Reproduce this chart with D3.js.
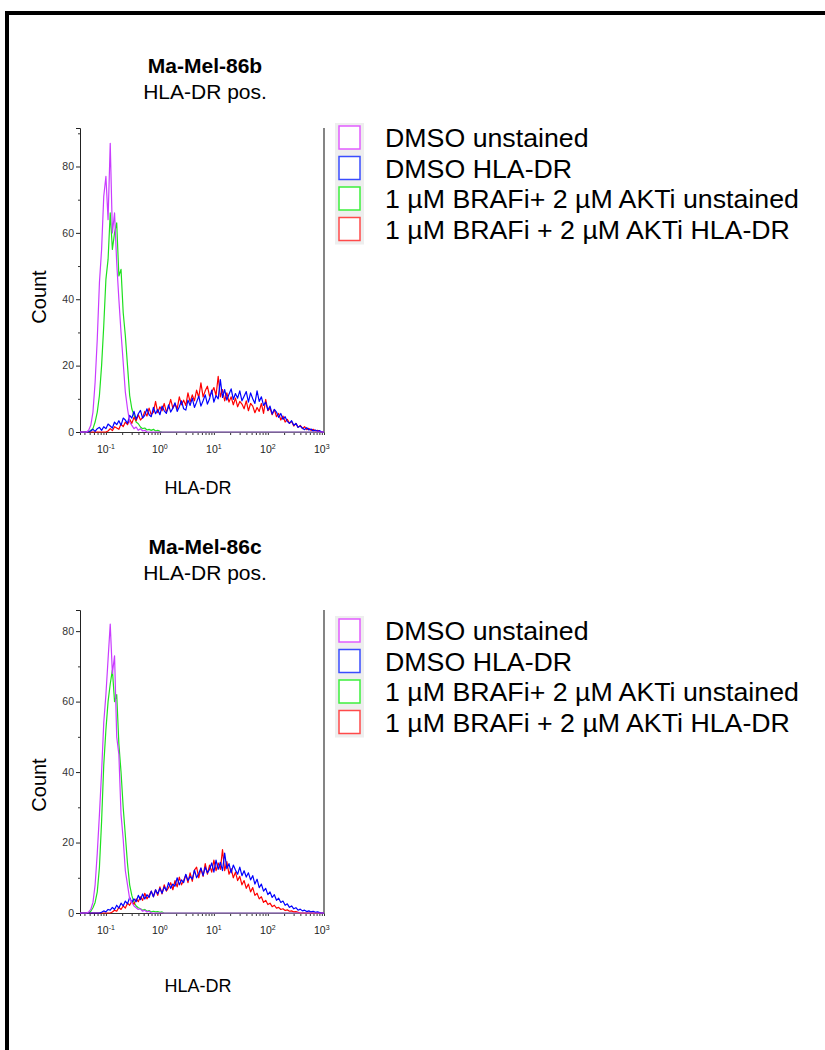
<!DOCTYPE html>
<html lang="en">
	<head>
		<meta charset="utf-8">
		<title>HLA-DR histograms</title>
		<script type="text/javascript" src="https://cdn.jsdelivr.net/npm/d3@7"></script>
		<style>
			body { margin: 0; background: #fff; }
			text { font-family: "Liberation Sans", Arial, sans-serif; }
		</style>
	</head>
	<body>
		<script type="text/javascript">

			var w = 825;
			var h = 1050;

			// histogram channels, log10 of HLA-DR intensity, 0.04 decade per bin
			var binStep = 0.04;

			// legend labels and colours
			var seriesNames = ["DMSO unstained", "DMSO HLA-DR", "1 \u00b5M BRAFi+ 2 \u00b5M AKTi unstained", "1 \u00b5M BRAFi + 2 \u00b5M AKTi HLA-DR"];
			var lineColors = ["#c93cff", "#0000ff", "#1fe01f", "#ff0000"];
			var boxColors = ["#e25cff", "#3a4cff", "#3cf03c", "#ff4a4a"];

			var xTickExp = [-1, 0, 1, 2, 3];
			var yTicks = [0, 20, 40, 60, 80];
			var yMinor = [10, 30, 50, 70, 90];

			// Ma-Mel-86b
			var b_dmsoUnst_from = -1.32;
			var b_dmsoUnst = [0.5, 2, 6, 15, 28, 45, 55, 71, 77, 64, 87, 60, 66, 51, 40, 30, 21, 12, 7, 3, 2, 1, 1.5, 0.5, 1, 0.3, 0.5, 0];

			var b_dmsoHla_from = -1.28;
			var b_dmsoHla = [0.3, 0.8, 0.2, 1, 1.4, 0.5, 1.6, 1, 2.4, 1.8,
				1.2, 3, 2.2, 3.4, 2, 4.2, 3.6, 2.6, 5, 4.2,
				6.2, 3.8, 5.5, 6.5, 4.2, 5, 7, 5.2, 4.6, 7.4,
				5.5, 6.8, 5.2, 7.8, 6.4, 5.6, 8.2, 6, 7.2, 8.8,
				6.2, 7.6, 9.4, 7, 6.6, 9.6, 8, 10.2, 7.4, 9,
				10.8, 7.8, 9.4, 11.2, 8.4, 10, 12.6, 9, 11, 10,
				15.8, 10.4, 12.8, 9.6, 11.4, 13, 9.8, 11.6, 10.2, 12.4,
				9.4, 10.8, 12.2, 9, 11.8, 10, 8.6, 12.4, 9.2, 10.6,
				8, 9, 6.6, 7.8, 5.4, 6.8, 6, 4.4, 5.6, 3.8,
				4.6, 3.2, 2.6, 3.4, 2, 2.6, 1.4, 1.8, 1.2, 0.7,
				1.3, 0.6, 0.9, 0.3, 0.6, 0.2, 0.4, 0];

			var b_comboUnst_from = -1.32;
			var b_comboUnst = [0, 0.5, 1, 3, 6, 11, 20, 32, 46, 52, 66, 55, 60, 63, 47, 49, 36, 29, 20, 11,
				7, 5, 3, 2.5, 1.5, 1, 1.2, 0.6, 0.8, 0.5, 0.8, 0.3, 0.5, 0.2, 0];

			var b_comboHla_from = -0.96;
			var b_comboHla = [0.3, 1, 0.4, 1.6, 1.2, 0.8, 2.4, 1.6, 3, 2.2,
				3.8, 2.6, 4.4, 3.4, 5.2, 3.6, 4.4, 6.2, 4.8, 7.2,
				5.2, 6, 9.2, 5.8, 7.6, 6.4, 8.6, 6, 7.4, 9.8,
				7.2, 8.4, 7, 10.6, 8.2, 9.6, 8, 11.8, 9, 11.2,
				9.4, 12.6, 10.4, 14.8, 10.6, 12.4, 13.8, 10.8, 12, 13.4,
				11, 16.8, 10.6, 12.8, 9.4, 11.8, 9, 10.6, 8.2, 10.2,
				7.6, 9.2, 8.4, 7, 9.4, 6.4, 8.6, 7.8, 5.8, 7.4,
				6.2, 8.6, 5.6, 9.8, 6.4, 7.2, 5.2, 6.8, 4.6, 5.6,
				3.6, 4.8, 3, 3.8, 2.6, 3.2, 1.8, 2.6, 1.4, 2,
				1, 1.6, 0.7, 1.1, 0.5, 0.8, 0.3, 0.5, 0.2, 0];

			// Ma-Mel-86c
			var c_dmsoUnst_from = -1.32;
			var c_dmsoUnst = [0.3, 1, 3, 8, 17, 28, 40, 54, 62, 72, 82, 68, 73, 50, 45, 28, 21, 12, 8, 4,
				3, 2, 1.5, 1, 1.2, 0.5, 0.8, 0.3, 0.5, 0];

			var c_dmsoHla_from = -1.08;
			var c_dmsoHla = [0.2, 0.6, 0.3, 1, 0.8, 1.6, 1, 2.2, 1.4, 2.8,
				2, 3.4, 2.6, 4.4, 3, 4, 3.2, 5, 3.8, 5.4,
				4, 5.2, 4.4, 6.2, 4.6, 6.6, 5.4, 7, 5.6, 7.4,
				6.4, 8.6, 7, 8.2, 7.6, 10, 8, 9.4, 8.6, 11,
				9.2, 10.4, 9.6, 12.2, 10, 11.2, 12.8, 10.6, 13, 11.4,
				12.4, 14.2, 11.6, 15, 12.4, 14.4, 12, 17, 12.6, 14,
				11.4, 13.6, 12.2, 11, 13, 10.6, 12, 10.2, 11.4, 9.4,
				10.6, 8.2, 9.6, 7.2, 8.2, 6.2, 7, 5.2, 6, 4.4,
				5.2, 3.6, 4.2, 3, 3.4, 2.2, 2.6, 1.6, 2, 1.2,
				1.5, 0.8, 1.1, 0.6, 0.8, 0.4, 0.6, 0.3, 0.5, 0.2,
				0.3, 0.1, 0];

			var c_comboUnst_from = -1.32;
			var c_comboUnst = [0, 0.5, 1.5, 3, 6, 13, 26, 42, 52, 60, 65, 69, 60, 62, 48, 40, 30, 22, 14, 8,
				5, 3, 2, 1.5, 1.2, 0.8, 1, 0.5, 0.7, 0.3, 0.5, 0.3, 0.4, 0.2, 0.3, 0];

			var c_comboHla_from = -0.88;
			var c_comboHla = [0.3, 0.8, 0.5, 1.6, 1, 2, 1.4, 2.8, 2.2, 3.4,
				2.4, 4, 3.2, 4.6, 3.6, 5.6, 4, 5, 6.2, 4.6,
				6.6, 5, 7.4, 5.4, 8, 6.2, 7.2, 8.6, 6.6, 9.2,
				7.4, 10.2, 8, 9.2, 10.8, 8.6, 11.4, 9, 12.2, 13,
				10, 12.6, 10.4, 14, 11, 13.6, 11.6, 15, 12, 14.2,
				12.4, 18, 12, 14.6, 11, 12.6, 10, 11.6, 9.2, 10.4,
				8, 9.2, 7, 8.2, 6, 7.2, 5, 5.6, 4, 4.6,
				3, 3.6, 2.4, 2.8, 1.8, 2.2, 1.4, 1.6, 1, 1.2,
				0.7, 0.9, 0.5, 0.6, 0.3, 0.4, 0.2, 0];

			var panels = [
				{ name: "Ma-Mel-86b", top: 128, bottom: 432, yMax: 91.6, titleY: 73, legendY: 138, xLabelY: 494, countY: 297,
				  series: [[b_dmsoUnst_from, b_dmsoUnst], [b_dmsoHla_from, b_dmsoHla], [b_comboUnst_from, b_comboUnst], [b_comboHla_from, b_comboHla]] },
				{ name: "Ma-Mel-86c", top: 610, bottom: 913, yMax: 86, titleY: 554, legendY: 631, xLabelY: 992, countY: 785,
				  series: [[c_dmsoUnst_from, c_dmsoUnst], [c_dmsoHla_from, c_dmsoHla], [c_comboUnst_from, c_comboUnst], [c_comboHla_from, c_comboHla]] }
			];

			var left = 80, right = 324;
			var logMin = -1.48, logMax = 3.04;

			var svg = d3.select("body")
						.append("svg")
						.attr("width", w)
						.attr("height", h);

			// outer frame (left and top edges only are in view)
			svg.append("path")
				.attr("d", "M7," + h + "V13H" + w)
				.attr("fill", "none")
				.attr("stroke", "#000")
				.attr("stroke-width", 4);

			var xScale = d3.scaleLog()
						.domain([Math.pow(10, logMin), Math.pow(10, logMax)])
						.range([left, right]);

			var minorX = [];
			[-2, -1, 0, 1, 2].forEach(function(e) {
				for (var k = 2; k <= 9; k++) {
					var v = k * Math.pow(10, e);
					if (v > xScale.domain()[0] && v < xScale.domain()[1]) minorX.push(v);
				}
			});

			// draw order: green, red, blue, magenta on top
			var drawOrder = [2, 3, 1, 0];

			panels.forEach(function(p) {
				var g = svg.append("g");

				var yScale = d3.scaleLinear()
							.domain([0, p.yMax])
							.range([p.bottom, p.top]);

				// right frame line of the plot
				g.append("line")
					.attr("x1", right).attr("x2", right)
					.attr("y1", p.top).attr("y2", p.bottom)
					.attr("stroke", "#333").attr("stroke-width", 1.2);

				// x axis: minor then major ticks
				var xMinorAxis = d3.axisBottom(xScale).tickValues(minorX).tickSize(3).tickFormat("");
				g.append("g")
					.attr("transform", "translate(0," + p.bottom + ")")
					.call(xMinorAxis)
					.call(function(a) { a.select(".domain").remove(); a.selectAll("line").attr("stroke", "#333"); });

				var xAxis = d3.axisBottom(xScale)
							.tickValues(xTickExp.map(function(e) { return Math.pow(10, e); }))
							.tickSize(3)
							.tickFormat("");
				var gx = g.append("g")
					.attr("transform", "translate(0," + p.bottom + ")")
					.call(xAxis);
				gx.select(".domain").attr("stroke", "#333");
				gx.selectAll("line").attr("stroke", "#333");

				// x tick labels with superscript exponent
				xTickExp.forEach(function(e) {
					var t = g.append("text")
						.attr("x", xScale(Math.pow(10, e)))
						.attr("y", p.bottom + 21)
						.attr("text-anchor", "middle")
						.attr("font-size", 10.5)
						.attr("fill", "#222");
					t.append("tspan").text("10");
					t.append("tspan").attr("dy", -4.5).attr("font-size", 7).text(e < 0 ? "-" + (-e) : e);
				});

				// y axis
				var yMinorAxis = d3.axisLeft(yScale)
							.tickValues(yMinor.filter(function(v) { return v < p.yMax; }))
							.tickSize(2).tickFormat("");
				g.append("g")
					.attr("transform", "translate(" + left + ",0)")
					.call(yMinorAxis)
					.call(function(a) { a.select(".domain").remove(); a.selectAll("line").attr("stroke", "#333"); });

				var yAxis = d3.axisLeft(yScale).tickValues(yTicks).tickSize(4).tickPadding(2);
				var gy = g.append("g")
					.attr("transform", "translate(" + left + ",0)")
					.call(yAxis);
				gy.select(".domain").attr("stroke", "#222");
				gy.selectAll("line").attr("stroke", "#222");
				gy.selectAll("text")
					.attr("font-family", "Liberation Sans, Arial, sans-serif")
					.attr("font-size", 10.5)
					.attr("fill", "#333");

				// histogram lines
				var line = d3.line()
							.x(function(d) { return xScale(Math.pow(10, d[0])); })
							.y(function(d) { return yScale(d[1]); });

				drawOrder.forEach(function(si) {
					var from = p.series[si][0];
					var counts = p.series[si][1];
					var pts = [[logMin, 0], [from - binStep, 0]];
					counts.forEach(function(c, i) { pts.push([from + i * binStep, c]); });
					pts.push([from + counts.length * binStep, 0]);
					pts.push([logMax, 0]);
					g.append("path")
						.datum(pts)
						.attr("d", line)
						.attr("fill", "none")
						.attr("stroke", lineColors[si])
						.attr("stroke-width", 1.2)
						.attr("stroke-linejoin", "round");
				});

				// titles
				g.append("text")
					.attr("x", 205).attr("y", p.titleY)
					.attr("text-anchor", "middle")
					.attr("font-size", 21).attr("font-weight", "bold")
					.text(p.name);
				g.append("text")
					.attr("x", 205).attr("y", p.titleY + 26)
					.attr("text-anchor", "middle")
					.attr("font-size", 21)
					.text("HLA-DR pos.");

				// axis labels
				g.append("text")
					.attr("transform", "translate(46," + p.countY + ") rotate(-90)")
					.attr("text-anchor", "middle")
					.attr("font-size", 20)
					.text("Count");
				g.append("text")
					.attr("x", 198).attr("y", p.xLabelY)
					.attr("text-anchor", "middle")
					.attr("font-size", 18)
					.text("HLA-DR");

				// legend
				var pitch = 30.5;
				g.append("rect")
					.attr("x", 335).attr("y", p.legendY - 15)
					.attr("width", 29).attr("height", pitch * 3 + 30)
					.attr("fill", "#eeeeee");
				seriesNames.forEach(function(name, i) {
					var cy = p.legendY + i * pitch;
					g.append("rect")
						.attr("x", 339).attr("y", cy - 12)
						.attr("width", 21).attr("height", 23)
						.attr("fill", "#fff")
						.attr("stroke", boxColors[i])
						.attr("stroke-width", 1.5);
					g.append("text")
						.attr("transform", "translate(385," + (cy + 9) + ") scale(1.07,1)")
						.attr("font-size", 25)
						.text(name);
				});
			});

		</script>
	</body>
</html>
